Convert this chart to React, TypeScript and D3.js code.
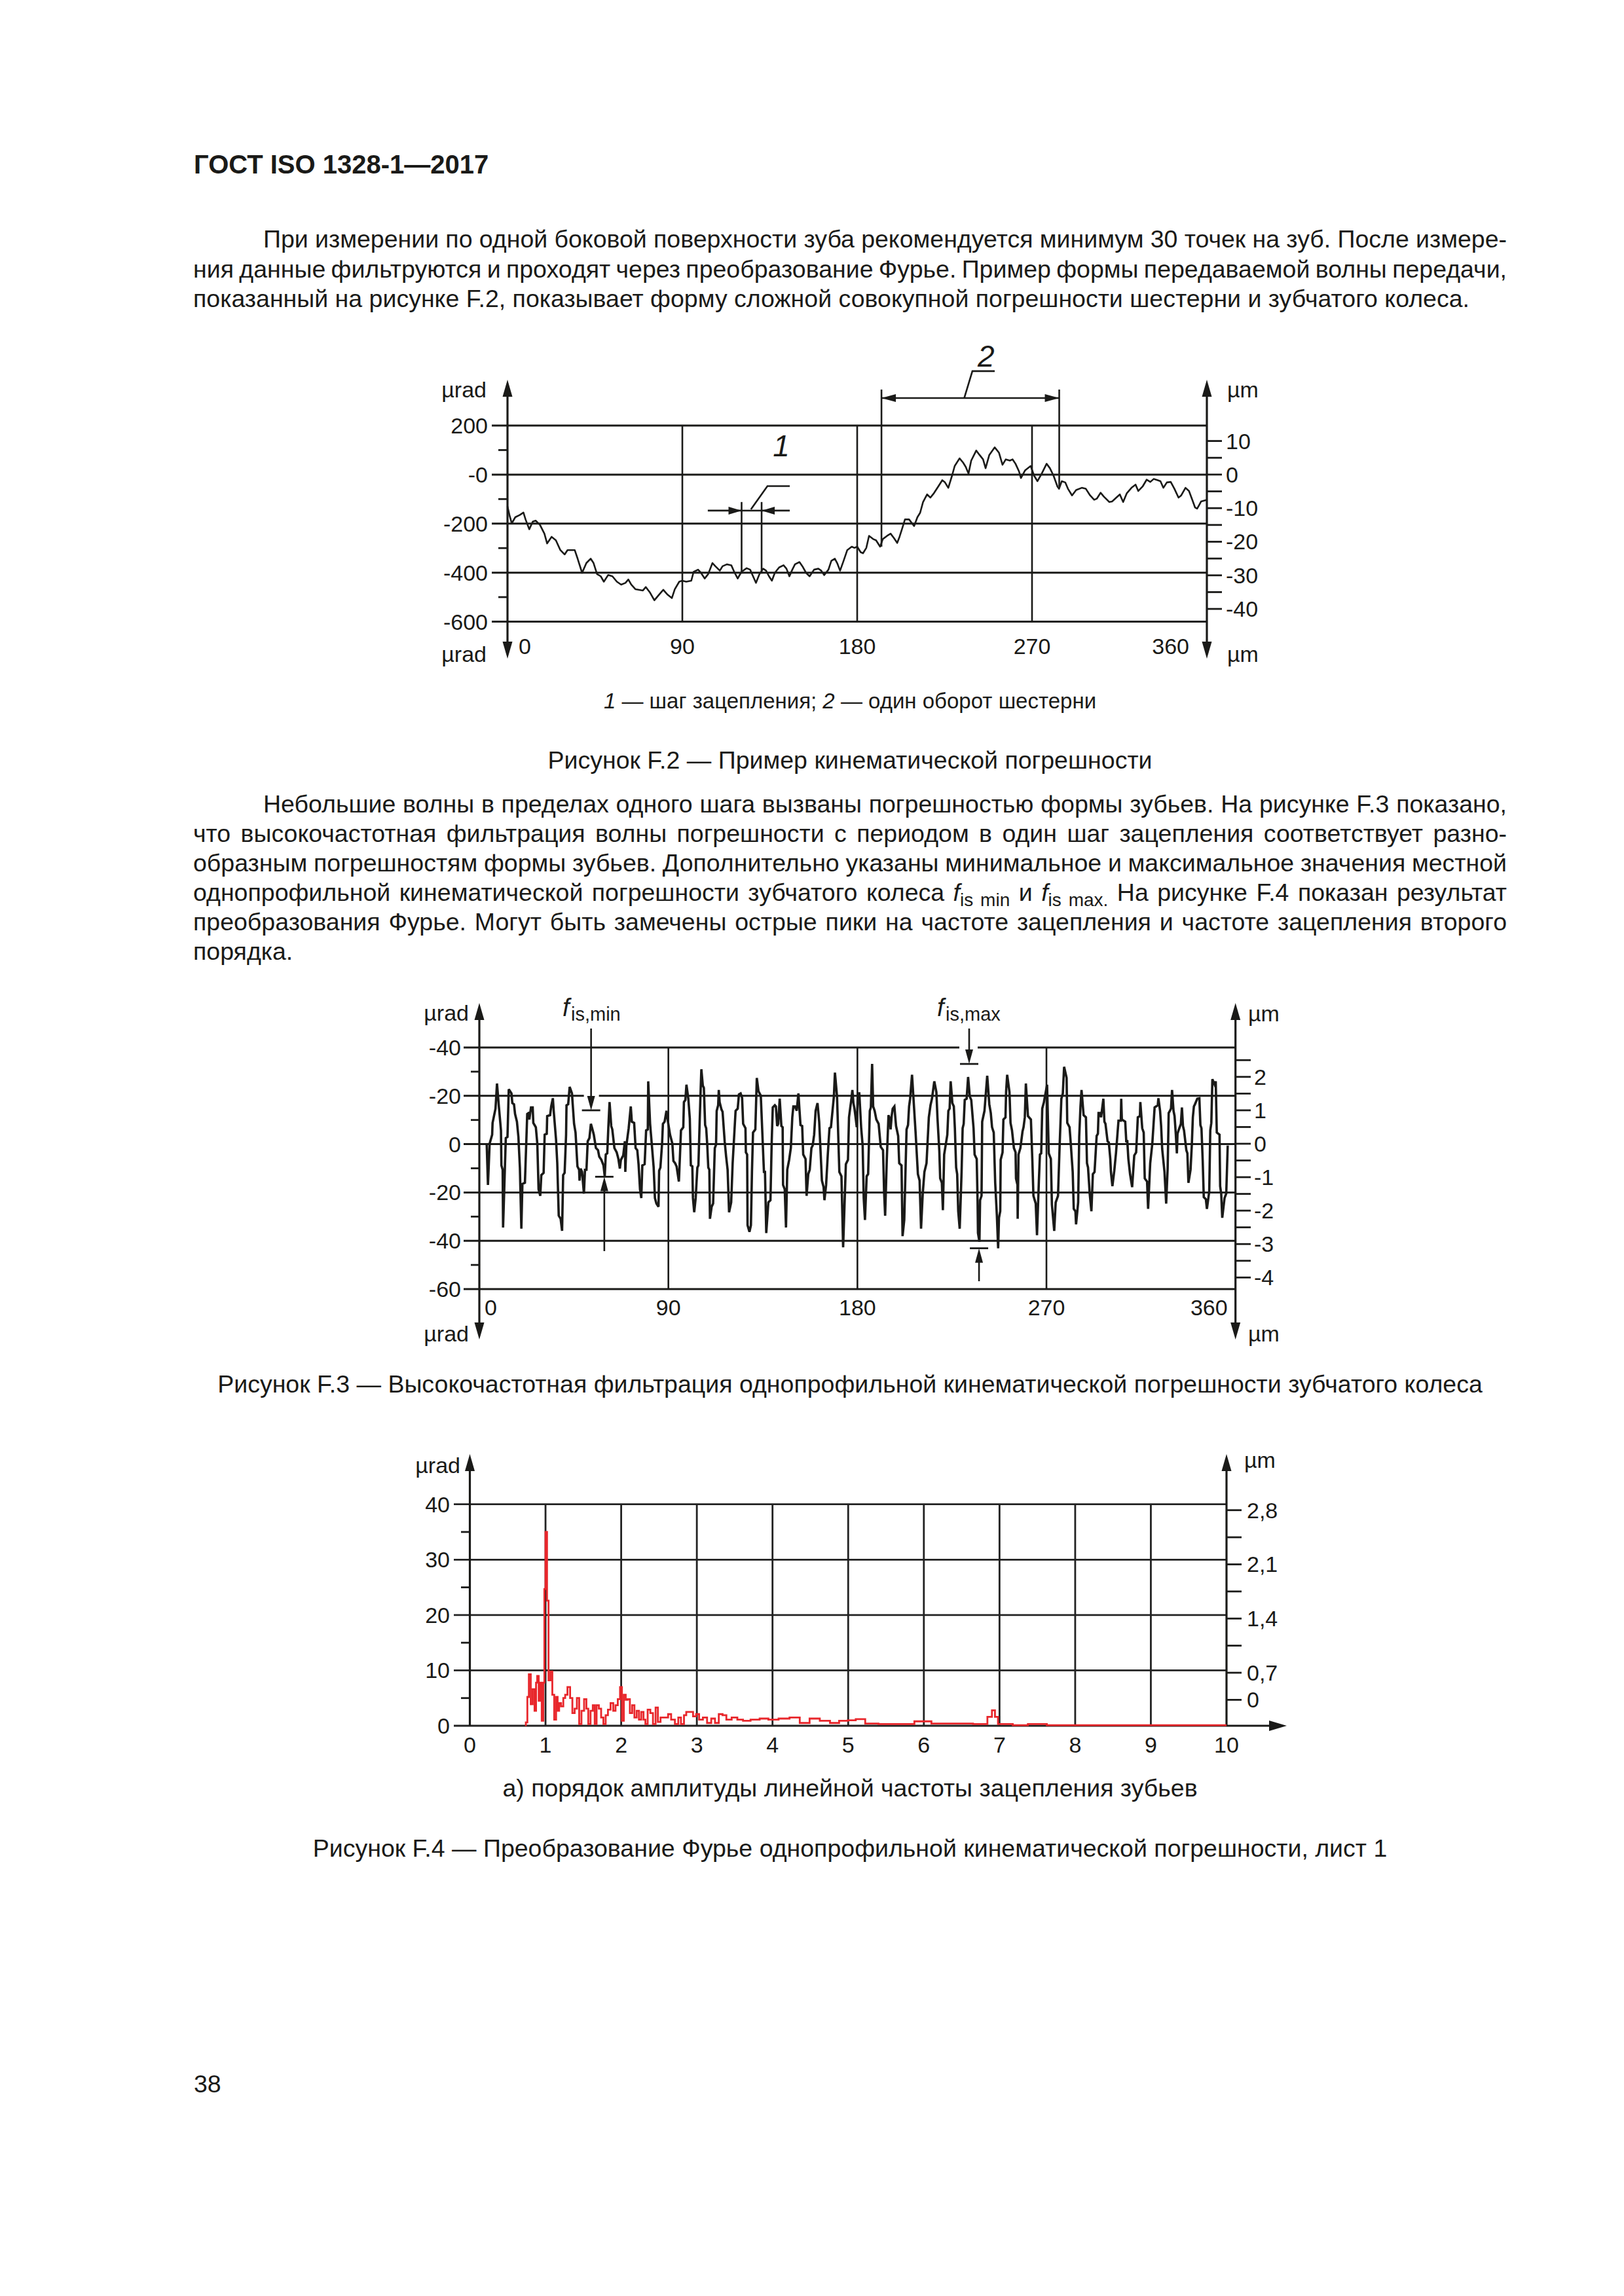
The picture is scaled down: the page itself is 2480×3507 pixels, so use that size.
import React, { useEffect, useRef } from "react";
import * as d3 from "d3";

const FONT = "'Liberation Sans', Arial, Helvetica, sans-serif";
const INK = "#1a1a18";
const RED = "#e8262b";

// ---------------- page text ----------------
const HEADER = "ГОСТ ISO 1328-1—2017";
const PARA1 = [
  "При измерении по одной боковой поверхности зуба рекомендуется минимум 30 точек на зуб. После измере-",
  "ния данные фильтруются и проходят через преобразование Фурье. Пример формы передаваемой волны передачи,",
  "показанный на рисунке F.2, показывает форму сложной совокупной погрешности шестерни и зубчатого колеса.",
];
const PARA2 = [
  "Небольшие волны в пределах одного шага вызваны погрешностью формы зубьев. На рисунке F.3 показано,",
  "что высокочастотная фильтрация волны погрешности с периодом в один шаг зацепления соответствует разно-",
  "образным погрешностям формы зубьев. Дополнительно указаны минимальное и максимальное значения местной",
  "однопрофильной кинематической погрешности зубчатого колеса ",
  "преобразования Фурье. Могут быть замечены острые пики на частоте зацепления и частоте зацепления второго",
  "порядка.",
];
const LEGEND_F2 = ["1", " — шаг зацепления; ", "2", " — один оборот шестерни"];
const CAPTION_F2 = "Рисунок F.2 — Пример кинематической погрешности";
const CAPTION_F3 = "Рисунок F.3 — Высокочастотная фильтрация однопрофильной кинематической погрешности зубчатого колеса";
const SUBCAPTION_F4 = "а) порядок амплитуды линейной частоты зацепления зубьев";
const CAPTION_F4 = "Рисунок F.4 — Преобразование Фурье однопрофильной кинематической погрешности, лист 1";
const PAGE_NO = "38";

// ---------------- F.2 data ----------------
const F2_X_TICKS = [0, 90, 180, 270, 360];
const F2_Y_TICKS = [200, 0, -200, -400, -600];
const F2_Y_LABELS = ["200", "-0", "-200", "-400", "-600"];
const F2_Y_MINOR = [100, -100, -300, -500];
const F2_UM_TICKS = [10, 5, 0, -5, -10, -15, -20, -25, -30, -35, -40];
const F2_UM_LABELS = [10, 0, -10, -20, -30, -40];
const F2_CURVE_A: [number, number][] = [
  [0, -130], [1, -165], [2.2, -199], [4, -174], [6.3, -165], [8.2, -155], [9.3, -183], [11.2, -223],
  [13, -192], [14.5, -188], [16.7, -205], [19, -241], [20.4, -281], [22.7, -254], [24.9, -268],
  [27.2, -308], [29.4, -326], [30.9, -308], [34.6, -308], [36.1, -343], [38.4, -401], [40.6, -361],
  [42.8, -343], [44.3, -361], [46.1, -406], [48, -415], [49.6, -437], [51.8, -410], [54, -415],
  [56.3, -437], [58.5, -449], [60.7, -442], [62.2, -428], [63.7, -449], [65.9, -468], [69.7, -473],
  [71.2, -459], [73.4, -482], [75.6, -513], [78, -490], [80.2, -470], [82.4, -490], [84.6, -504],
  [86.1, -468], [88.4, -437], [89.9, -433], [92, -437], [94.6, -433], [95.8, -397], [98.1, -388],
  [99.6, -401], [101.5, -424], [103.3, -406], [105.5, -361], [107, -374], [109.3, -392], [110.7, -374],
  [113, -366], [115.2, -370], [116.7, -397], [118.5, -424], [120.4, -397], [123.1, -382], [124.9, -388],
  [126.4, -415], [127.9, -442], [129.7, -406], [131.6, -384], [133.1, -392], [134.6, -415], [136.1, -433],
  [137.6, -401], [139.8, -379], [142.1, -370], [143.6, -384], [145.1, -415], [146.6, -388], [148, -366],
  [150.3, -357], [151.8, -374], [153.7, -401], [155.5, -415], [157.8, -388], [160, -384], [161.5, -392],
  [163, -410], [165.2, -388], [166.7, -352], [168.5, -343], [169.7, -361], [171.2, -392], [173, -352],
  [174.9, -308], [177.2, -294], [178.6, -299], [180, -294],
];
const F2_CURVE_B: [number, number][] = [
  [181.8, -317], [183, -321], [184.7, -299], [186.1, -250], [188.2, -263], [189.7, -268], [191.8, -294],
  [193.2, -263], [195.4, -250], [197.2, -241], [198.9, -259], [200.6, -279], [201.8, -254], [203.2, -219],
  [204.6, -183], [206.7, -183], [209.3, -210], [211, -174], [212.4, -156], [213.9, -112], [216, -81],
  [217.7, -94], [219.5, -76], [221.7, -49], [223.8, -23], [225.2, -32], [226.9, -54], [228.8, -5],
  [230.2, 35], [232.7, 66], [234.5, 49], [235.9, 31], [237.3, 4], [238.7, 57], [241.3, 98], [243, 80],
  [244.8, 62], [246.1, 26], [248, 80], [250.8, 111], [253, 89], [254.8, 40], [256.5, 62], [258.6, 57],
  [260, 62], [261.5, 44], [263.3, 13], [264.3, -14], [266.4, 17], [269.3, 35], [271.1, -5], [272.8, -27],
  [275, 4], [277.5, 44], [279.2, 26], [281.1, -5], [283.1, -49], [283.9, -58], [285.3, -27], [287.1, -32],
  [288.5, -58], [290.6, -85], [292.7, -63], [295.6, -54], [297.7, -58], [299.9, -85], [302, -103],
  [303.4, -98], [305.3, -74], [307, -90], [309.8, -112], [311.2, -110], [313.4, -94], [315.2, -81],
  [316.9, -112], [318.8, -76], [321.2, -54], [323.3, -41], [324.7, -67], [326.9, -49], [329, -21],
  [330.9, -30], [332.6, -18], [334.7, -23], [336.1, -27], [337.6, -54], [339.4, -32], [341.4, -30],
  [343.3, -58], [345.4, -94], [346.8, -85], [349, -54], [350.8, -67], [352.5, -103], [353.9, -134],
  [355, -139], [356, -125], [357, -110], [360, -103],
];
// annotation anchors (deg)
const F2_PITCH = [120.5, 130.8];
const F2_REV = [192.5, 284.0];

// ---------------- F.3 data ----------------
const F3_X_TICKS = [0, 90, 180, 270, 360];
const F3_Y_TICKS = [40, 20, 0, -20, -40, -60];
const F3_Y_LABELS = ["-40", "-20", "0", "-20", "-40", "-60"];
const F3_Y_MINOR = [30, 10, -10, -30, -50];
const F3_UM_TICKS = [2.5, 2, 1.5, 1, 0.5, 0, -0.5, -1, -1.5, -2, -2.5, -3, -3.5, -4];
const F3_UM_LABELS = [2, 1, 0, -1, -2, -3, -4];
const F3_SEG_A: [number, number][] = [
  [3.5, 0.2], [4.1, -16.9], [4.9, 0.2], [6.1, 3.9], [6.3, 8.8], [7.7, 14.7], [8.4, 25.1], [9.3, 15.6],
  [10.3, 5.7], [10.5, -8.8], [11.1, -10.6], [11.3, -34.5], [12.6, 2.5], [13.4, 3.0], [14.0, 22.7],
  [15.3, 21.0], [15.7, 17.0], [16.5, 16.5], [17.0, 12.5], [17.9, 9.3], [18.6, 3.0], [19.3, -9.7],
  [20.0, -35.0], [20.5, -16.5], [21.7, -16.0], [22.8, 12.5], [23.5, 12.9], [23.8, 10.2], [24.6, 15.2],
  [25.4, 15.2], [25.7, 8.8], [26.9, 7.0], [27.6, 0.2], [28.2, -18.7], [29.0, -21.4], [29.5, -12.8],
  [30.6, -11.9], [31.1, 3.9], [32.1, 4.3], [32.3, 11.6], [33.7, 12.0], [34.2, 15.6], [35.0, 19.0],
  [35.4, 13.8], [36.5, 2.1], [37.1, -7.9], [37.8, -29.6], [38.7, -30.9], [39.4, -35.9], [39.9, -12.8],
  [40.6, -11.9], [41.3, 3.9], [41.5, 16.1], [42.3, 16.5], [43.0, 23.7], [44.1, 21.0], [45.1, 8.4],
  [45.8, 4.8], [46.7, -9.2], [47.5, -10.6], [47.7, -15.1], [48.2, -10.1], [48.9, -11.5], [49.8, -20.5],
  [50.3, -10.6], [51.0, -10.6], [51.6, 1.2], [52.4, 2.5], [53.1, 8.4], [53.7, 6.6], [54.5, 3.9],
  [55.5, -1.6], [56.5, -2.5], [57.1, -5.2], [58.1, -6.5], [59.1, -8.8], [59.7, -13.3], [60.2, -4.3],
  [60.9, -3.8], [61.4, 6.6], [62.0, 17.4], [62.8, 7.5], [63.3, 6.1], [64.3, -1.6], [65.4, -3.4],
  [66.2, -6.1], [66.9, -10.1], [67.4, -6.5], [68.5, -4.7], [69.3, 1.2], [69.5, -11.5], [70.0, -0.6],
  [71.1, 6.6], [72.1, 15.6], [72.6, 9.3], [73.7, 8.8], [74.4, -1.6], [75.2, -2.5], [75.8, -8.3],
  [76.5, -18.7], [77.1, -22.3], [77.6, -8.8], [78.7, -8.3], [79.4, 5.7], [80.2, 6.1], [80.4, 26.0],
  [81.3, 8.4], [82.5, -4.3], [83.0, -9.7], [83.6, -22.3], [84.3, -24.6], [85.3, -25.9], [85.6, -11.0],
  [86.2, -9.7], [87.0, 0.2], [87.4, 8.4], [88.2, 9.3], [89.1, 13.8], [89.8, 9.3], [90.8, 3.9],
  [91.9, 0.2], [92.4, -7.0], [93.2, -7.9], [93.9, -9.2], [95.0, -15.5], [95.5, -5.2], [96.0, 5.7],
  [97.1, 7.0], [97.4, 17.4], [98.1, 18.3], [98.6, 24.6], [99.5, 18.8], [100.2, 10.6], [100.7, -8.8],
  [101.4, -9.2], [101.7, -22.3], [102.3, -28.2], [103.0, -22.3], [103.8, -9.7], [104.3, -8.8],
  [104.9, 9.3], [105.4, 23.3], [105.7, 31.0], [106.4, 24.2], [106.9, 23.3], [107.5, 7.9], [108.0, 6.6],
  [108.5, -0.2], [109.0, -9.7], [109.5, -10.6], [109.8, -30.9], [110.6, -25.9], [111.3, -24.6],
  [112.1, -1.6], [112.7, -0.2], [113.0, 13.8], [113.7, 16.1], [114.0, 22.4], [114.4, 17.4], [115.3, 14.3],
  [115.8, 13.4], [116.8, 1.2], [117.5, -5.2], [118.2, -10.6], [118.9, -28.2], [119.9, -24.1],
  [120.6, -7.9], [122.0, 13.8],
];
const F3_SEG_B: [number, number][] = [
  [123.0, 14.7], [123.6, 20.6], [124.4, 21.0], [125.1, 19.2], [125.6, 8.4], [126.7, 6.6], [126.9, -3.4],
  [127.5, -4.3], [127.7, -33.6], [128.6, -36.3], [129.3, -33.6], [129.8, -11.5], [130.3, 4.8],
  [131.4, 6.1], [132.1, 27.4], [132.9, 21.9], [134.0, 20.1], [135.5, -11.5], [136.0, -11.5],
  [136.6, -36.8], [137.6, -24.1], [138.6, -23.2], [139.2, 1.2], [139.7, 15.2], [140.7, 16.1],
  [141.2, 15.6], [141.8, 7.5], [142.3, 8.4], [143.0, 18.8], [143.8, 7.5], [144.4, 7.0], [144.6, -16.9],
  [145.4, -18.7], [146.0, -34.5], [146.6, -10.6], [147.5, -6.5], [148.3, -1.6], [149.0, 11.1],
  [149.5, 15.6], [150.3, 15.6], [151.1, 13.8], [151.9, 21.0], [152.9, 7.9], [153.7, 7.5], [154.2, -4.3],
  [155.3, -6.1], [155.8, -21.4], [156.6, -12.4], [157.3, -10.6], [158.1, -1.6], [158.7, -0.6],
  [159.4, 3.9], [160.1, 13.8], [161.0, 17.0], [161.8, 9.3], [162.5, -3.8], [163.1, -15.1], [163.9, -17.8],
  [164.3, -23.2], [165.1, -16.9], [165.9, -4.3], [166.7, 6.6], [167.4, 7.0], [168.8, 19.7], [169.3, 29.6],
  [170.3, 19.7], [171.4, -11.5], [172.4, -13.3], [173.2, -42.7], [174.5, -8.3], [175.5, -6.5],
  [176.0, 11.1], [176.6, 15.2], [177.1, 18.3], [177.6, 22.4], [178.1, 17.0], [178.6, 14.7], [179.2, 10.6],
  [179.7, 7.0], [180.2, 21.0], [180.9, 21.0], [181.8, 6.6], [182.5, -0.6], [183.0, -22.3], [183.6, -31.4],
  [184.4, -13.3], [185.1, -12.4], [185.9, 13.8], [186.4, 15.2], [187.0, 33.2], [187.5, 15.6],
  [188.2, 13.8], [189.0, 10.2], [190.1, 8.4], [191.1, -1.1], [192.2, -2.5], [192.7, -19.6], [193.2, -29.6],
  [194.0, -6.1], [194.8, 12.0], [195.5, 10.2], [195.8, 6.1], [196.3, 11.6], [196.8, 14.7], [197.6, 15.6],
  [198.4, 7.5], [199.4, 3.4], [199.9, -7.9], [201.0, -8.8], [201.5, -38.1], [202.3, -31.4], [203.4, 6.1],
  [204.1, 7.9], [204.6, 15.6], [205.1, 18.8], [206.0, 28.7], [206.7, 18.8], [207.7, 4.8], [208.8, -12.4],
  [209.6, -15.1], [210.3, -35.0], [211.1, -20.5], [211.9, -11.5], [212.9, -7.9], [214.0, 11.1],
  [214.8, 16.1], [215.5, 18.8], [216.6, 26.0], [217.6, 21.5], [218.1, 11.1], [219.0, -2.9], [219.4, -14.2],
  [220.2, -16.0], [220.7, -27.3], [221.3, -4.3], [221.8, -1.6], [222.8, 3.9], [223.3, 13.8], [223.9, 14.7],
  [224.4, 26.0], [225.2, 17.0], [225.9, 15.6], [226.4, 6.6], [227.0, -9.7], [227.5, -12.4], [228.0, -27.8],
  [228.7, -35.0], [229.6, -11.5], [230.1, 6.6], [230.6, 8.4], [231.1, 18.3], [232.0, 18.8], [232.7, 27.8],
  [233.5, 19.7], [234.2, 18.3], [235.3, 6.6], [235.8, -4.3], [236.8, -6.1], [237.2, -23.2], [237.4, -36.8],
  [238.1, -40.4], [238.4, -23.2], [239.1, -21.4], [239.4, 9.3], [240.5, 13.8], [241.8, 28.3],
  [242.8, 16.5], [243.5, 12.9],
];
const F3_SEG_C: [number, number][] = [
  [244.1, 7.0], [244.9, 4.8], [245.6, -16.0], [246.4, -29.6], [247.0, -43.1], [247.4, -30.5],
  [248.0, -27.8], [248.2, -6.5], [249.1, -3.4], [249.5, 10.2], [250.5, 11.1], [250.8, 21.9], [251.3, 28.7],
  [252.4, 21.5], [252.9, 8.8], [253.6, 5.7], [254.5, -1.6], [255.3, -3.4], [255.5, -14.2], [256.2, -16.9],
  [256.3, -30.9], [256.7, -4.3], [257.6, -1.6], [258.6, 5.2], [259.1, 7.0], [259.7, 11.1], [260.2, 25.1],
  [261.2, 11.6], [262.6, 10.2], [263.3, -7.0], [263.8, -21.4], [264.9, -24.6], [265.5, -37.7],
  [266.4, -15.1], [266.9, -4.3], [267.5, -3.8], [268.0, 14.7], [268.8, 17.4], [270.3, 24.6], [271.1, -3.8],
  [272.1, -6.1], [272.6, -25.0], [273.7, -35.9], [274.4, -24.1], [275.5, -21.4], [276.3, -0.2],
  [277.1, 18.8], [277.8, 21.0], [278.4, 32.0], [279.6, 27.4], [279.9, 8.8], [281.0, 7.0], [281.5, 1.2],
  [282.5, -11.5], [283.0, -26.8], [283.8, -27.8], [284.1, -33.2], [285.1, -24.1], [285.6, 3.0],
  [286.2, 15.6], [286.7, 22.4], [287.7, 12.0], [288.8, 11.1], [289.3, -7.9], [289.8, -9.7], [290.6, -20.5],
  [291.4, -27.8], [292.1, -12.4], [292.9, -11.5], [293.9, 3.4], [294.5, 4.3], [294.8, 12.9], [295.5, 12.9],
  [296.0, 11.1], [297.1, 18.8], [297.6, 9.3], [298.1, 8.4], [299.1, 1.2], [299.7, 0.7], [300.4, -6.1],
  [300.7, -11.5], [301.4, -17.4], [302.3, -11.0], [303.1, -3.8], [304.3, 9.7], [305.4, 9.7], [305.6, 18.8],
  [305.9, 10.2], [307.5, 9.3], [308.0, 1.2], [308.5, 1.2], [309.0, -6.1], [309.8, -12.4], [310.8, -17.8],
  [311.8, -4.7], [312.7, -3.4], [313.5, 11.1], [314.5, 11.6], [314.7, 17.4], [315.6, 6.6], [316.3, 4.8],
  [316.8, -14.2], [317.9, -15.5], [318.4, -26.8], [319.4, -7.9], [320.4, 0.2], [321.5, 15.2], [323.0, 16.1],
  [323.3, 19.0], [324.1, 13.8], [324.6, 7.5], [325.1, -2.0], [326.2, -11.5], [327.0, -24.6],
  [327.7, -10.1], [328.2, 12.9], [328.8, 13.8], [329.3, 14.7], [329.8, 22.4], [330.5, 13.8], [331.0, 11.6],
  [331.6, 3.9], [332.1, -3.8], [332.4, 4.3], [332.9, 5.7], [334.0, 8.4], [334.5, 15.2], [335.0, 7.5],
  [335.5, 5.7], [336.6, -2.5], [337.1, -3.8], [337.6, -16.0], [338.6, -10.6], [339.2, -0.6], [339.7, 11.1],
  [340.2, 15.6], [340.7, 16.5], [341.8, 18.8], [342.8, 19.0], [343.3, 7.9], [343.8, 6.6], [344.4, -7.0],
  [344.9, -21.9], [345.9, -22.8], [346.4, -26.8], [347.5, -19.6], [348.0, 5.7], [348.5, 8.8], [349.0, 26.9],
  [350.1, 24.6], [350.6, 26.0], [351.1, 4.8], [352.4, 3.9], [352.7, -17.4], [353.2, -20.5], [353.7, -30.5],
  [354.8, -22.3], [355.6, -20.5], [356.3, -0.6],
];
// f_is markers (deg, µrad)
const F3_FIS_MIN = { downDeg: 53.2, top: 14.0, upDeg: 59.5, bottom: -13.5 };
const F3_FIS_MAX = { downDeg: 233.2, top: 33.2, upDeg: 237.9, bottom: -43.1 };

// ---------------- F.4 data ----------------
const F4_X_TICKS = [0, 1, 2, 3, 4, 5, 6, 7, 8, 9, 10];
const F4_Y_TICKS = [40, 30, 20, 10, 0];
const F4_Y_MINOR = [35, 25, 15, 5];
const F4_UM_TICKS = [2.8, 2.45, 2.1, 1.75, 1.4, 1.05, 0.7, 0.35];
const F4_UM_LABELS = ["2,8", "", "2,1", "", "1,4", "", "0,7", "0"];
const F4_ORDER = [
  0.73, 0.75, 0.77, 0.79, 0.82, 0.84, 0.87, 0.88, 0.9, 0.92,
  0.94, 0.96, 0.98, 0.99, 1.01, 1.03, 1.05, 1.08, 1.1, 1.13,
  1.15, 1.17, 1.19, 1.22, 1.25, 1.27, 1.31, 1.34, 1.37, 1.4,
  1.43, 1.46, 1.49, 1.53, 1.55, 1.58, 1.61, 1.64, 1.66, 1.69,
  1.72, 1.75, 1.78, 1.81, 1.84, 1.88, 1.91, 1.94, 1.97, 2.0,
  2.02, 2.05, 2.07, 2.1, 2.13, 2.16, 2.19, 2.22, 2.25, 2.28,
  2.31, 2.33, 2.37, 2.4, 2.44, 2.47, 2.5, 2.54, 2.6, 2.64,
  2.68, 2.74, 2.77, 2.81, 2.85, 2.87, 2.93, 2.97, 3.01, 3.05,
  3.11, 3.16, 3.22, 3.26, 3.32, 3.36, 3.42, 3.5, 3.57, 3.65,
  3.77, 3.89, 4.0, 4.16, 4.29, 4.43, 4.55, 4.7, 4.82, 4.94,
  5.05, 5.15, 5.3, 5.5, 5.75, 6.0, 6.2, 6.5, 6.8, 6.88,
  6.92, 6.96, 7.0, 7.05, 7.3, 7.45, 7.6, 7.65, 8.0, 9.0,
  10.0,
];
const F4_AMPL = [
  0.1, 0.6, 5.2, 9.3, 3.9, 6.6, 2.7, 7.8, 9.0, 4.5,
  7.8, 0.9, 7.8, 24.7, 35, 22.6, 8.2, 9.8, 5.6, 1.1,
  5.2, 2.7, 4.1, 3.5, 5.0, 5.6, 7.0, 5.0, 2.3, 3.1,
  5.0, 0.3, 2.7, 4.8, 3.1, 0.3, 2.7, 3.7, 0.3, 3.7,
  3.1, 1.5, 0.3, 1.9, 2.9, 4.1, 2.7, 3.7, 4.8, 7.0,
  0.9, 5.6, 4.7, 4.8, 2.3, 3.7, 1.5, 2.7, 1.1, 2.5,
  1.1, 0.3, 2.9, 2.3, 0.3, 3.3, 0.7, 1.5, 1.5, 2.1,
  1.1, 0.3, 1.5, 0.3, 1.9, 2.5, 2.5, 1.7, 2.1, 1.1,
  1.5, 0.5, 1.3, 0.5, 2.1, 1.9, 1.1, 1.5, 1.1, 0.9,
  1.1, 1.3, 1.1, 1.3, 1.5, 0.5, 1.3, 0.9, 0.5, 0.9,
  1.0, 1.2, 0.4, 0.3, 0.3, 0.8, 0.4, 0.4, 0.3, 1.6,
  2.8, 1.6, 0.3, 0.3, 0.1, 0.3, 0.3, 0.1, 0.1, 0.1,
  0.1,
];

// ---------------- helpers ----------------
const BODY = 37.5;
const LBL = 34;
const LEFT = 295;
const INDENT = 402;
const RIGHT = 2301;
const CENTER = 1298;

function tri(tx: number, ty: number, dir: string, len = 26, half = 7.5) {
  let pts: number[][] = [];
  if (dir === "up") pts = [[tx, ty], [tx - half, ty + len], [tx + half, ty + len]];
  if (dir === "down") pts = [[tx, ty], [tx - half, ty - len], [tx + half, ty - len]];
  if (dir === "right") pts = [[tx, ty], [tx - len, ty - half], [tx - len, ty + half]];
  if (dir === "left") pts = [[tx, ty], [tx + len, ty - half], [tx + len, ty + half]];
  return <polygon points={pts.map((p) => p.join(",")).join(" ")} fill={INK} />;
}

function Line(p: { x1: number; y1: number; x2: number; y2: number; w?: number; c?: string }) {
  return <line x1={p.x1} y1={p.y1} x2={p.x2} y2={p.y2} stroke={p.c || INK} strokeWidth={p.w || 2.8} />;
}

// ---------------- F.2 ----------------
function FigF2() {
  const x = d3.scaleLinear().domain([0, 360]).range([775, 1843]);
  const y = d3.scaleLinear().domain([-600, 200]).range([949.5, 650]);
  const y0 = y(0);
  const yum = d3.scaleLinear().domain([-40, 10]).range([y0 + 40 * 5.13, y0 - 10 * 5.13]);
  const line = d3.line<[number, number]>().x((d) => x(d[0])).y((d) => y(d[1]));
  const curve = line([...F2_CURVE_A, ...F2_CURVE_B]) || "";
  const xL = x(0), xR = x(360);
  const yT = y(200), yB = y(-600);
  const pa = x(F2_PITCH[0]), pb = x(F2_PITCH[1]);
  const pY = y(-147);
  const ra = x(F2_REV[0]), rb = x(F2_REV[1]);
  const rY = y(312);
  return (
    <g>
      {F2_Y_TICKS.map((v) => <Line key={"h" + v} x1={751} y1={y(v)} x2={xR} y2={y(v)} w={3} />)}
      {[90, 180, 270].map((v) => <Line key={"v" + v} x1={x(v)} y1={yT} x2={x(v)} y2={yB} w={2.6} />)}
      {F2_Y_MINOR.map((v) => <Line key={"m" + v} x1={761} y1={y(v)} x2={xL} y2={y(v)} w={2.8} />)}
      <Line x1={xL} y1={590} x2={xL} y2={996} w={3.2} />
      {tri(xL, 580, "up")}
      {tri(xL, 1006, "down")}
      <Line x1={xR} y1={590} x2={xR} y2={996} w={3.2} />
      {tri(xR, 580, "up")}
      {tri(xR, 1006, "down")}
      {F2_UM_TICKS.map((v) => <Line key={"u" + v} x1={xR} y1={yum(v)} x2={1866} y2={yum(v)} w={2.8} />)}
      <g fontFamily={FONT} fontSize={LBL} fill={INK}>
        {F2_Y_TICKS.map((v, i) => (
          <text key={"yl" + v} x={745} y={y(v) + 12} textAnchor="end">{F2_Y_LABELS[i]}</text>
        ))}
        {F2_UM_LABELS.map((v) => (
          <text key={"ul" + v} x={1872} y={yum(v) + 12}>{v}</text>
        ))}
        {F2_X_TICKS.map((v) => (
          <text key={"xl" + v} x={v === 0 ? x(v) + 17 : v === 360 ? x(v) - 27 : x(v)} y={999}
            textAnchor={v === 0 ? "start" : v === 360 ? "end" : "middle"}>{v}</text>
        ))}
        <text x={743} y={607} textAnchor="end">µrad</text>
        <text x={743} y={1011} textAnchor="end">µrad</text>
        <text x={1874} y={607}>µm</text>
        <text x={1874} y={1011}>µm</text>
      </g>
      <path d={curve} fill="none" stroke={INK} strokeWidth={2.6} strokeLinejoin="round" />
      {/* pitch dimension 1 */}
      <Line x1={pa} y1={y(-112)} x2={pa} y2={y(-404)} w={2.6} />
      <Line x1={pb} y1={y(-112)} x2={pb} y2={y(-404)} w={2.6} />
      <Line x1={x(103.1)} y1={pY} x2={pa} y2={pY} w={2.6} />
      <Line x1={pb} y1={pY} x2={x(145.3)} y2={pY} w={2.6} />
      <Line x1={pa} y1={pY} x2={pb} y2={pY} w={2.6} />
      {tri(pa, pY, "right", 20, 6)}
      {tri(pb, pY, "left", 20, 6)}
      <polyline points={`${x(125.3)},${y(-142)} ${x(133.8)},${y(-47)} ${x(145.3)},${y(-47)}`} fill="none" stroke={INK} strokeWidth={2.6} />
      <text x={x(136.6)} y={697} fontFamily={FONT} fontStyle="italic" fontSize={46} fill={INK}>1</text>
      {/* revolution dimension 2 */}
      <Line x1={ra} y1={595} x2={ra} y2={835} w={2.6} />
      <Line x1={rb} y1={595} x2={rb} y2={743} w={2.6} />
      <Line x1={ra} y1={rY} x2={rb} y2={rY} w={2.6} />
      {tri(ra, rY, "left", 22, 6)}
      {tri(rb, rY, "right", 22, 6)}
      <polyline points={`${x(235.1)},${rY} ${x(239.3)},${y(422)} ${x(250.8)},${y(422)}`} fill="none" stroke={INK} strokeWidth={2.6} />
      <text x={x(242.0)} y={560} fontFamily={FONT} fontStyle="italic" fontSize={46} fill={INK}>2</text>
    </g>
  );
}

// ---------------- F.3 ----------------
function FigF3() {
  const x = d3.scaleLinear().domain([0, 360]).range([732, 1886.7]);
  const y = d3.scaleLinear().domain([-60, 40]).range([1969, 1600]);
  const yum = d3.scaleLinear().domain([-4, 2.5]).range([1951.3, 1619.3]);
  const line = d3.line<[number, number]>().x((d) => x(d[0])).y((d) => y(d[1]));
  const curve = line([...F3_SEG_A, ...F3_SEG_B, ...F3_SEG_C]) || "";
  const xL = x(0), xR = x(360);
  const yT = y(40), yB = y(-60);
  const mnD = x(F3_FIS_MIN.downDeg), mnU = x(F3_FIS_MIN.upDeg);
  const mxD = x(F3_FIS_MAX.downDeg), mxU = x(F3_FIS_MAX.upDeg);
  const mnT = y(F3_FIS_MIN.top), mnB = y(F3_FIS_MIN.bottom);
  const mxT = y(F3_FIS_MAX.top), mxB = y(F3_FIS_MAX.bottom);
  return (
    <g>
      {F3_Y_TICKS.map((v) => {
        if (v === 40) return (
          <g key={"h" + v}>
            <Line x1={708} y1={y(v)} x2={mxD - 15} y2={y(v)} w={3} />
            <Line x1={mxD + 13} y1={y(v)} x2={xR} y2={y(v)} w={3} />
          </g>
        );
        if (v === 20) return (
          <g key={"h" + v}>
            <Line x1={708} y1={y(v)} x2={mnD - 11} y2={y(v)} w={3} />
            <Line x1={mnD + 12} y1={y(v)} x2={xR} y2={y(v)} w={3} />
          </g>
        );
        return <Line key={"h" + v} x1={708} y1={y(v)} x2={xR} y2={y(v)} w={3} />;
      })}
      {[90, 180, 270].map((v) => <Line key={"v" + v} x1={x(v)} y1={yT} x2={x(v)} y2={yB} w={2.6} />)}
      {F3_Y_MINOR.map((v) => <Line key={"m" + v} x1={719} y1={y(v)} x2={xL} y2={y(v)} w={2.8} />)}
      <Line x1={xL} y1={1545} x2={xL} y2={2034} w={3.2} />
      {tri(xL, 1532, "up")}
      {tri(xL, 2046, "down")}
      <Line x1={xR} y1={1545} x2={xR} y2={2034} w={3.2} />
      {tri(xR, 1532, "up")}
      {tri(xR, 2046, "down")}
      {F3_UM_TICKS.map((v) => <Line key={"u" + v} x1={xR} y1={yum(v)} x2={1910} y2={yum(v)} w={2.8} />)}
      <g fontFamily={FONT} fontSize={LBL} fill={INK}>
        {F3_Y_TICKS.map((v, i) => (
          <text key={"yl" + v} x={704} y={y(v) + 12} textAnchor="end">{F3_Y_LABELS[i]}</text>
        ))}
        {F3_UM_LABELS.map((v) => (
          <text key={"ul" + v} x={1915} y={yum(v) + 12}>{v}</text>
        ))}
        {F3_X_TICKS.map((v) => (
          <text key={"xl" + v} x={v === 0 ? x(v) + 8 : v === 360 ? x(v) - 12 : x(v)} y={2009}
            textAnchor={v === 0 ? "start" : v === 360 ? "end" : "middle"}>{v}</text>
        ))}
        <text x={716} y={1559} textAnchor="end">µrad</text>
        <text x={716} y={2049} textAnchor="end">µrad</text>
        <text x={1906} y={1560}>µm</text>
        <text x={1906} y={2049}>µm</text>
      </g>
      <path d={curve} fill="none" stroke={INK} strokeWidth={3.6} strokeLinejoin="miter" strokeMiterlimit={3} />
      {/* f_is,min */}
      <Line x1={mnD} y1={1571} x2={mnD} y2={mnT - 18} w={2.6} />
      {tri(mnD, mnT, "down", 22, 6)}
      <Line x1={mnD - 14} y1={mnT} x2={mnD + 14} y2={mnT} w={2.8} />
      <Line x1={mnU - 14} y1={mnB} x2={mnU + 14} y2={mnB} w={2.8} />
      {tri(mnU, mnB, "up", 22, 6)}
      <Line x1={mnU} y1={mnB + 18} x2={mnU} y2={1911} w={2.6} />
      {/* f_is,max */}
      <Line x1={mxD} y1={1571} x2={mxD} y2={mxT - 18} w={2.6} />
      {tri(mxD, mxT, "down", 22, 6)}
      <Line x1={mxD - 14} y1={mxT} x2={mxD + 14} y2={mxT} w={2.8} />
      <Line x1={mxU - 14} y1={mxB} x2={mxU + 14} y2={mxB} w={2.8} />
      {tri(mxU, mxB, "up", 22, 6)}
      <Line x1={mxU} y1={mxB + 18} x2={mxU} y2={1957} w={2.6} />
      <g fontFamily={FONT} fill={INK}>
        <text x={859} y={1552} fontSize={38} fontStyle="italic">f</text>
        <text x={872} y={1559} fontSize={29}>is,min</text>
        <text x={1431} y={1552} fontSize={38} fontStyle="italic">f</text>
        <text x={1444} y={1559} fontSize={29}>is,max</text>
      </g>
    </g>
  );
}

// ---------------- F.4 ----------------
function FigF4() {
  const x = d3.scaleLinear().domain([0, 10]).range([717.5, 1873]);
  const y = d3.scaleLinear().domain([0, 40]).range([2636, 2297.7]);
  const yum = d3.scaleLinear().domain([0.7, 2.8]).range([2555, 2306.7]);
  const pts: [number, number][] = F4_ORDER.map((o, i) => [o, F4_AMPL[i]]);
  const line = d3.line<[number, number]>().x((d) => x(d[0])).y((d) => y(d[1])).curve(d3.curveStep);
  const spec = line(pts) || "";
  const xL = x(0), xR = x(10);
  const yT = y(40), yB = y(0);
  return (
    <g>
      {F4_Y_TICKS.map((v) => <Line key={"h" + v} x1={693} y1={y(v)} x2={xR} y2={y(v)} w={2.8} c="#222" />)}
      {F4_X_TICKS.slice(1, 10).map((v) => <Line key={"v" + v} x1={x(v)} y1={yT} x2={x(v)} y2={yB} w={2.8} c="#222" />)}
      {F4_Y_MINOR.map((v) => <Line key={"m" + v} x1={704} y1={y(v)} x2={xL} y2={y(v)} w={2.8} />)}
      <Line x1={xL} y1={2234} x2={xL} y2={yB} w={3.2} />
      {tri(xL, 2221, "up")}
      <Line x1={xR} y1={2234} x2={xR} y2={yB} w={3.2} />
      {tri(xR, 2221, "up")}
      <Line x1={xR} y1={yB} x2={1945} y2={yB} w={3.2} />
      {tri(1965, yB, "right", 27, 8)}
      {F4_UM_TICKS.map((v) => <Line key={"u" + v} x1={xR} y1={yum(v)} x2={1896} y2={yum(v)} w={2.8} />)}
      <g fontFamily={FONT} fontSize={LBL} fill={INK}>
        {F4_Y_TICKS.map((v) => (
          <text key={"yl" + v} x={687} y={y(v) + 12} textAnchor="end">{v}</text>
        ))}
        {F4_UM_TICKS.map((v, i) => F4_UM_LABELS[i] ? (
          <text key={"ul" + v} x={1904} y={yum(v) + 12}>{F4_UM_LABELS[i]}</text>
        ) : null)}
        {F4_X_TICKS.map((v) => (
          <text key={"xl" + v} x={x(v)} y={2677} textAnchor="middle">{v}</text>
        ))}
        <text x={703} y={2250} textAnchor="end">µrad</text>
        <text x={1900} y={2242}>µm</text>
      </g>
      <path d={spec} fill="none" stroke={RED} strokeWidth={2.8} />
    </g>
  );
}

function JText(p: { x: number; y: number; w: number; children: React.ReactNode }) {
  return (
    <text className="justify" data-width={p.w} x={p.x} y={p.y} fontFamily={FONT} fontSize={BODY} fill={INK}>
      {p.children}
    </text>
  );
}

export default function App() {
  const ref = useRef<SVGSVGElement>(null);
  useEffect(() => {
    const run = () => {
      d3.select(ref.current).selectAll<SVGTextElement, unknown>("text.justify").each(function () {
        const target = +(this.getAttribute("data-width") || 0);
        this.setAttribute("word-spacing", "0");
        const w = this.getComputedTextLength();
        const n = ((this.textContent || "").match(/ /g) || []).length;
        if (n > 0) this.setAttribute("word-spacing", String((target - w) / n));
      });
    };
    run();
    if ((document as any).fonts && (document as any).fonts.ready) (document as any).fonts.ready.then(run);
  }, []);

  const p1y = [378, 424, 469];
  const p2y = [1241, 1286, 1331, 1376, 1421, 1466];
  return (
    <svg ref={ref} width={2480} height={3507} viewBox="0 0 2480 3507"
      style={{ position: "absolute", left: 0, top: 0, display: "block", background: "#fff" }}>
      <rect x={0} y={0} width={2480} height={3507} fill="#fff" />
      <text x={296} y={265} fontFamily={FONT} fontWeight="bold" fontSize={40} fill={INK}>{HEADER}</text>

      <JText x={INDENT} y={p1y[0]} w={RIGHT - INDENT}>{PARA1[0]}</JText>
      <JText x={LEFT} y={p1y[1]} w={RIGHT - LEFT}>{PARA1[1]}</JText>
      <text x={LEFT} y={p1y[2]} fontFamily={FONT} fontSize={BODY} fill={INK}>{PARA1[2]}</text>

      <FigF2 />
      <text x={CENTER} y={1082} textAnchor="middle" fontFamily={FONT} fontSize={33} fill={INK}>
        <tspan fontStyle="italic">{LEGEND_F2[0]}</tspan>{LEGEND_F2[1]}<tspan fontStyle="italic">{LEGEND_F2[2]}</tspan>{LEGEND_F2[3]}
      </text>
      <text x={CENTER} y={1174} textAnchor="middle" fontFamily={FONT} fontSize={BODY} fill={INK}>{CAPTION_F2}</text>

      <JText x={INDENT} y={p2y[0]} w={RIGHT - INDENT}>{PARA2[0]}</JText>
      <JText x={LEFT} y={p2y[1]} w={RIGHT - LEFT}>{PARA2[1]}</JText>
      <JText x={LEFT} y={p2y[2]} w={RIGHT - LEFT}>{PARA2[2]}</JText>
      <JText x={LEFT} y={p2y[3]} w={RIGHT - LEFT}>
        {PARA2[3]}
        <tspan fontStyle="italic">f</tspan>
        <tspan fontSize={28} dy={8}>is min</tspan>
        <tspan dy={-8}>{" и "}</tspan>
        <tspan fontStyle="italic">f</tspan>
        <tspan fontSize={28} dy={8}>is max.</tspan>
        <tspan dy={-8}>{" На рисунке F.4 показан результат"}</tspan>
      </JText>
      <JText x={LEFT} y={p2y[4]} w={RIGHT - LEFT}>{PARA2[4]}</JText>
      <text x={LEFT} y={p2y[5]} fontFamily={FONT} fontSize={BODY} fill={INK}>{PARA2[5]}</text>

      <FigF3 />
      <text x={CENTER} y={2127} textAnchor="middle" fontFamily={FONT} fontSize={BODY} fill={INK}>{CAPTION_F3}</text>

      <FigF4 />
      <text x={CENTER} y={2744} textAnchor="middle" fontFamily={FONT} fontSize={BODY} fill={INK}>{SUBCAPTION_F4}</text>
      <text x={CENTER} y={2836} textAnchor="middle" fontFamily={FONT} fontSize={BODY} fill={INK}>{CAPTION_F4}</text>

      <text x={296} y={3196} fontFamily={FONT} fontSize={BODY} fill={INK}>{PAGE_NO}</text>
    </svg>
  );
}
